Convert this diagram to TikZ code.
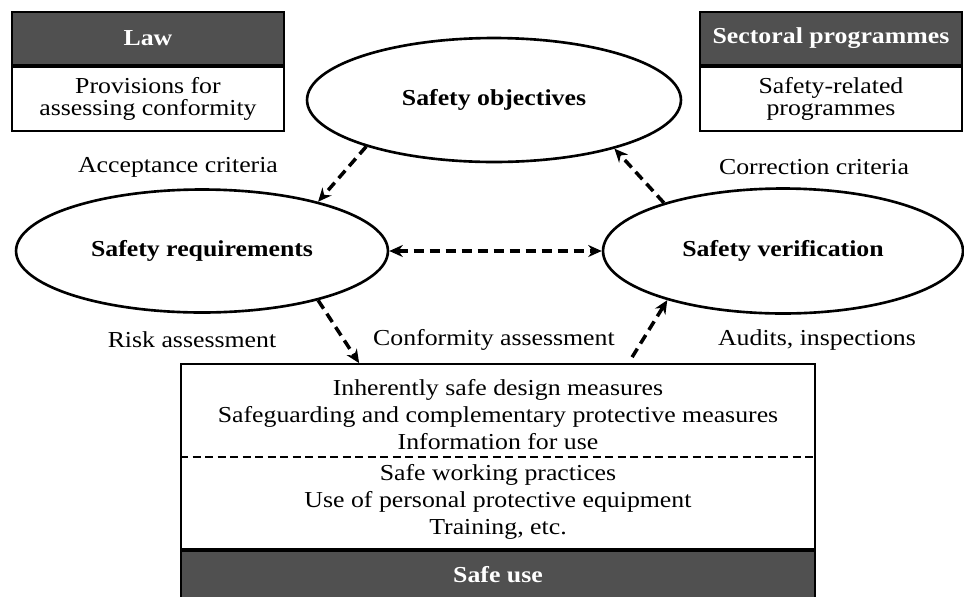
\documentclass[tikz,border=0pt]{standalone}
\usepackage{fontspec}
\setmainfont{Liberation Serif}[FakeStretch=1.13]
\usepackage{tikz}
\usetikzlibrary{shapes.geometric,arrows.meta,positioning}
\definecolor{grisoscuro}{RGB}{80,80,80}

\begin{document}
\begin{tikzpicture}[x=0.02cm, y=-0.02cm,
        font=\fontsize{13}{15.5}\selectfont,
        >={Stealth[length=0.27cm, width=0.24cm]},
        elipse/.style={draw, ellipse, line width=1.5pt, inner sep=0pt,
            font=\fontsize{13}{15.5}\selectfont\bfseries},
        cabecera/.style={draw, fill=grisoscuro, text=white, line width=1pt,
            inner sep=0pt, font=\fontsize{13}{15.5}\selectfont\bfseries},
        caja/.style={draw, line width=1pt, inner sep=0pt, align=center},
        flecha/.style={line width=2pt, dash pattern=on 0.2cm off 0.12cm},
        etiqueta/.style={inner sep=1pt}]

    % Marco
    \useasboundingbox (0,0) rectangle (964,596);

    % Cajas superiores
    \node[cabecera, minimum width=5.44cm, minimum height=1.06cm] (ley) at (148,38.5) {Law};
    \node[caja, anchor=north, minimum width=5.44cm, minimum height=1.28cm,
        font=\fontsize{13}{12.5}\selectfont] (leytexto) at (ley.south)
        {Provisions for\\assessing conformity};

    \node[cabecera, minimum width=5.24cm, minimum height=1.06cm] (sector) at (831,38.5) {Sectoral programmes};
    \node[caja, anchor=north, minimum width=5.24cm, minimum height=1.28cm,
        font=\fontsize{13}{12.5}\selectfont] (sectortexto) at (sector.south)
        {Safety-related\\programmes};

    % Elipses
    \node[elipse, minimum width=7.48cm, minimum height=2.48cm] (objetivos) at (494,100) {Safety objectives};
    \node[elipse, minimum width=7.44cm, minimum height=2.46cm] (requisitos) at (202,251) {Safety requirements};
    \node[elipse, minimum width=7.2cm, minimum height=2.5cm] (verificacion) at (783,251) {Safety verification};

    % Caja inferior
    \node[caja, minimum width=12.68cm, minimum height=3.7cm] (medidas) at (498,456.5) {};
    \node[cabecera, anchor=north, minimum width=12.68cm, minimum height=0.94cm] (usoseguro) at (medidas.south) {Safe use};
    \coordinate (sep) at (498,457);
    \draw[line width=0.7pt, dash pattern=on 0.16cm off 0.09cm]
        (medidas.west |- sep) -- (medidas.east |- sep);

    \node[align=center, font=\fontsize{13}{15.4}\selectfont] (diseno) at (498,415)
        {Inherently safe design measures\\
         Safeguarding and complementary protective measures\\
         Information for use};
    \node[align=center, font=\fontsize{13}{15.4}\selectfont] (practicas) at (498,502)
        {Safe working practices\\
         Use of personal protective equipment\\
         Training, etc.};

    % Etiquetas
    \node[etiqueta] (aceptacion) at (178,167) {Acceptance criteria};
    \node[etiqueta] (correccion) at (814,167) {Correction criteria};
    \node[etiqueta] (riesgo) at (192,340) {Risk assessment};
    \node[etiqueta] (conformidad) at (494,340) {Conformity assessment};
    \node[etiqueta] (auditorias) at (817,340) {Audits, inspections};

    % Flechas
    \draw[flecha, ->] (objetivos.200) -- (requisitos.23);
    \draw[flecha, ->] (verificacion.158) -- (objetivos.-22);
    \draw[flecha, <->] (requisitos.east) -- (verificacion.west);
    \draw[flecha, ->] (requisitos.-23) -- ([xshift=3.58cm]medidas.north west);
    \draw[flecha, ->] ([xshift=9.04cm, yshift=0.12cm]medidas.north west) -- (verificacion.203);

\end{tikzpicture}
\end{document}
